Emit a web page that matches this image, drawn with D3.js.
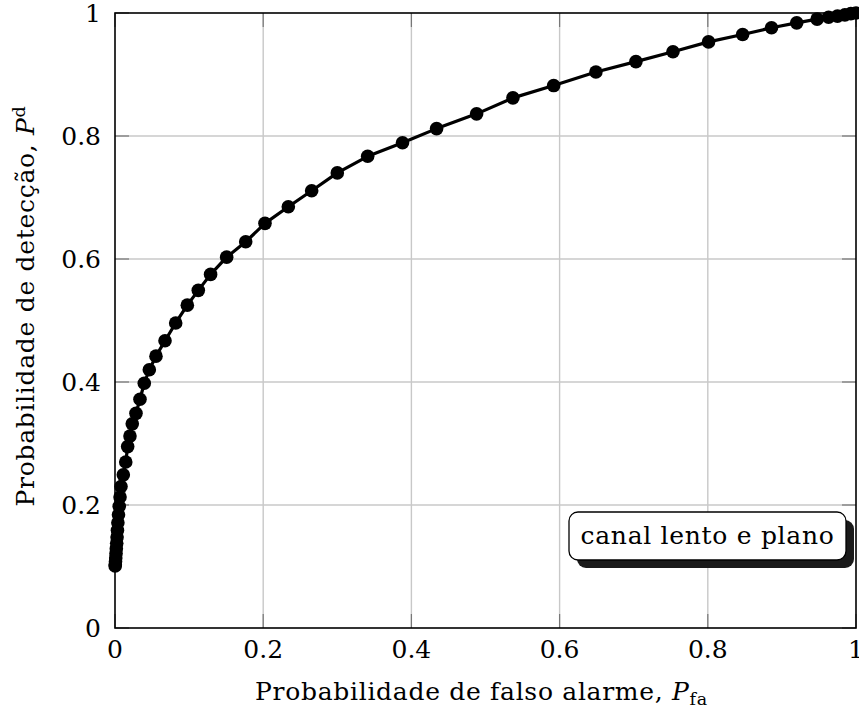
<!DOCTYPE html>
<html>
<head>
<meta charset="utf-8">
<script src="https://cdn.jsdelivr.net/npm/d3@7"></script>
<style>
  html, body { margin: 0; padding: 0; background: #fff; }
  svg { display: block; }
  text { font-family: "DejaVu Serif", "Liberation Serif", serif; fill: #000; }
</style>
</head>
<body>
<svg id="chart" width="859" height="713"></svg>
<script>
// ROC curve: probability of false alarm vs probability of detection
const pfa = [0.0002, 0.0004, 0.0007, 0.0010, 0.0014, 0.0018, 0.0023, 0.0028, 0.0033, 0.0039,
             0.0047, 0.0057, 0.0068, 0.0081, 0.0112, 0.0145, 0.0171, 0.0202, 0.0233, 0.0283,
             0.0337, 0.0395, 0.0463, 0.0553, 0.0675, 0.0819, 0.0976, 0.1124, 0.1290, 0.1507,
             0.1764, 0.2024, 0.2339, 0.2654, 0.3000, 0.3410, 0.3880, 0.4340, 0.4880, 0.5370,
             0.5920, 0.6490, 0.7030, 0.7530, 0.8010, 0.8470, 0.8860, 0.9200, 0.9475, 0.9630,
             0.9750, 0.9850, 0.9930, 1.0000];
const pd  = [0.101, 0.103, 0.108, 0.114, 0.121, 0.129, 0.138, 0.148, 0.159, 0.171,
             0.184, 0.198, 0.213, 0.230, 0.249, 0.270, 0.295, 0.312, 0.332, 0.349,
             0.372, 0.398, 0.420, 0.442, 0.467, 0.496, 0.525, 0.549, 0.575, 0.603,
             0.628, 0.658, 0.685, 0.711, 0.740, 0.767, 0.789, 0.812, 0.836, 0.862,
             0.882, 0.904, 0.921, 0.937, 0.953, 0.965, 0.976, 0.984, 0.990, 0.993,
             0.995, 0.997, 0.999, 1.000];
const xTicks = [0, 0.2, 0.4, 0.6, 0.8, 1];
const yTicks = [0, 0.2, 0.4, 0.6, 0.8, 1];
const xTickLabels = ["0", "0.2", "0.4", "0.6", "0.8", "1"];
const yTickLabels = ["0", "0.2", "0.4", "0.6", "0.8", "1"];
const legendText = "canal lento e plano";

const svg = d3.select("#chart");
const plotL = 115, plotR = 856, plotT = 13, plotB = 628;
const x = d3.scaleLinear().domain([0, 1]).range([plotL, plotR]);
const y = d3.scaleLinear().domain([0, 1]).range([plotB, plotT]);
const fontSize = 25;
const spacing = 0.7;
const tickLen = 14;

// grid
const grid = svg.append("g");
grid.selectAll(".gx").data(xTicks.slice(1, -1)).join("line")
  .attr("x1", d => x(d)).attr("x2", d => x(d)).attr("y1", plotT).attr("y2", plotB)
  .attr("stroke", "#c8c8c8").attr("stroke-width", 1.4);
grid.selectAll(".gy").data(yTicks.slice(1, -1)).join("line")
  .attr("y1", d => y(d)).attr("y2", d => y(d)).attr("x1", plotL).attr("x2", plotR)
  .attr("stroke", "#c8c8c8").attr("stroke-width", 1.4);

// inner tick marks on all four sides
const ticks = svg.append("g").attr("stroke", "#777").attr("stroke-width", 1.2);
xTicks.forEach(t => {
  ticks.append("line").attr("x1", x(t)).attr("x2", x(t)).attr("y1", plotB).attr("y2", plotB - tickLen);
  ticks.append("line").attr("x1", x(t)).attr("x2", x(t)).attr("y1", plotT).attr("y2", plotT + tickLen);
});
yTicks.forEach(t => {
  ticks.append("line").attr("y1", y(t)).attr("y2", y(t)).attr("x1", plotL).attr("x2", plotL + tickLen);
  ticks.append("line").attr("y1", y(t)).attr("y2", y(t)).attr("x1", plotR).attr("x2", plotR - tickLen);
});

// frame
svg.append("rect").attr("x", plotL).attr("y", plotT)
  .attr("width", plotR - plotL).attr("height", plotB - plotT)
  .attr("fill", "none").attr("stroke", "#000").attr("stroke-width", 1.6);

// tick labels
svg.append("g").selectAll("text").data(xTicks).join("text")
  .attr("x", d => x(d)).attr("y", plotB + 30)
  .attr("text-anchor", "middle").attr("font-size", fontSize)
  .text((d, i) => xTickLabels[i]);
svg.append("g").selectAll("text").data(yTicks).join("text")
  .attr("x", plotL - 14).attr("y", d => y(d) + 9)
  .attr("text-anchor", "end").attr("font-size", fontSize)
  .text((d, i) => yTickLabels[i]);

// axis titles
const xt = svg.append("text").attr("x", (plotL + plotR) / 2 - 4).attr("y", 700)
  .attr("text-anchor", "middle").attr("font-size", fontSize).attr("letter-spacing", spacing);
xt.append("tspan").text("Probabilidade de falso alarme, ");
xt.append("tspan").attr("font-style", "italic").text("P");
xt.append("tspan").attr("font-size", fontSize * 0.7).attr("dy", 5).text("fa");

const yt = svg.append("text")
  .attr("transform", `translate(34,306) rotate(-90)`)
  .attr("text-anchor", "middle").attr("font-size", fontSize).attr("letter-spacing", spacing);
yt.append("tspan").text("Probabilidade de detecção, ");
yt.append("tspan").attr("font-style", "italic").text("P");
yt.append("tspan").attr("font-size", fontSize * 0.7).attr("dy", -9).text("d");

// ROC curve with markers
const pts = pfa.map((v, i) => [v, pd[i]]);
svg.append("path").datum(pts)
  .attr("d", d3.line().x(d => x(d[0])).y(d => y(d[1])))
  .attr("fill", "none").attr("stroke", "#000").attr("stroke-width", 3.2)
  .attr("stroke-linejoin", "round");
svg.append("g").selectAll("circle").data(pts).join("circle")
  .attr("cx", d => x(d[0])).attr("cy", d => y(d[1])).attr("r", 6.8)
  .attr("fill", "#000");

// legend box with drop shadow
const lg = svg.append("g");
const bx = 569, by = 512, bw = 277, bh = 48;
lg.append("rect").attr("x", bx + 8).attr("y", by + 8).attr("width", bw).attr("height", bh)
  .attr("rx", 9).attr("fill", "#1a1a1a");
lg.append("rect").attr("x", bx).attr("y", by).attr("width", bw).attr("height", bh)
  .attr("rx", 9).attr("fill", "#fff").attr("stroke", "#000").attr("stroke-width", 1.3);
lg.append("text").attr("x", bx + bw / 2).attr("y", by + 32)
  .attr("text-anchor", "middle").attr("font-size", fontSize).attr("letter-spacing", spacing)
  .text(legendText);
</script>
</body>
</html>
